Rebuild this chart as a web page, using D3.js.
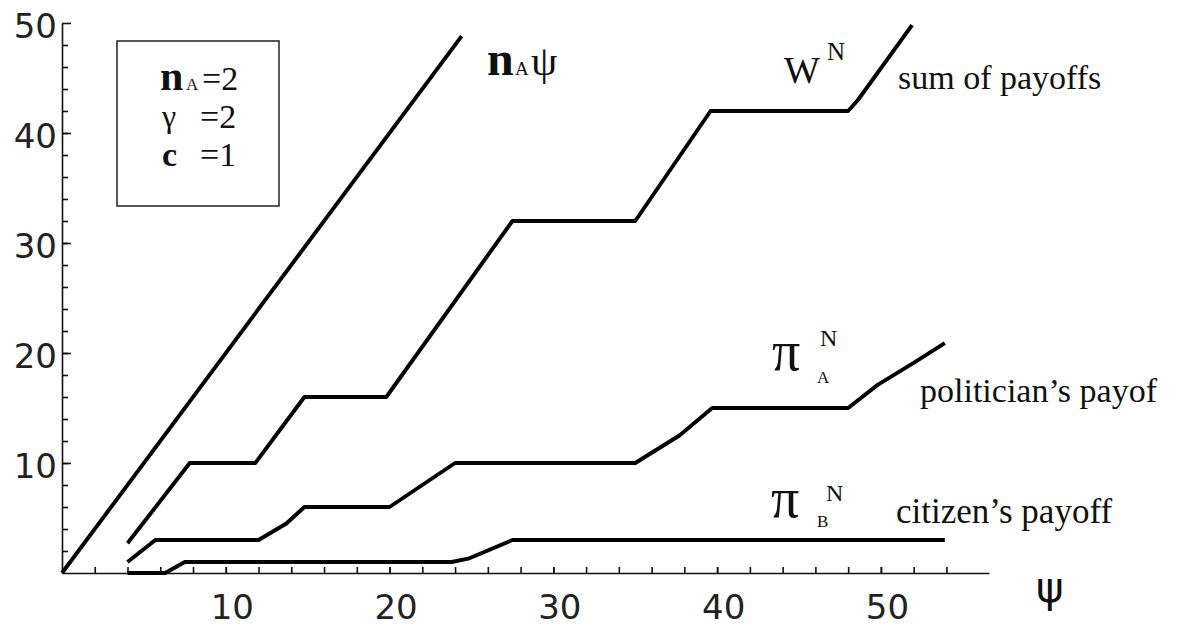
<!DOCTYPE html>
<head>
  <meta charset="utf-8">
  <script src="https://d3js.org/d3.v7.min.js"></script>
  <style>
    body { margin: 0; background: #fff; }
    .tick text { font-family: "DejaVu Sans", sans-serif; font-size: 34px; fill: #222; }
    .serif { font-family: "Liberation Serif", "Times New Roman", serif; fill: #111; }
  </style>
</head>
<body>
  <svg width="1184" height="628"></svg>
  <script>
    // curves: psi on x, payoff on y
    const psiLine = [0, 24.4];
    const valLine = [0, 48.8];

    const psiW = [4.0, 7.8, 11.8, 14.8, 19.8, 27.5, 35.0, 39.6, 48.0, 48.6, 51.9];
    const valW = [2.7, 10, 10, 16, 16, 32, 32, 42, 42, 43, 49.8];

    const psiA = [4.0, 5.7, 12.0, 13.7, 14.8, 20.0, 24.0, 35.0, 37.7, 39.7, 48.0, 49.8, 52.0, 53.9];
    const valA = [1.0, 3.0, 3.0, 4.5, 6.0, 6.0, 10.0, 10.0, 12.5, 15.0, 15.0, 17.1, 19.1, 20.9];

    const psiB = [4.0, 6.3, 7.5, 23.8, 24.8, 27.5, 53.9];
    const valB = [0, 0, 1, 1, 1.3, 3, 3];

    const xMinor = d3.range(2, 55, 2);
    const xMajor = [10, 20, 30, 40, 50];
    const yMinor = d3.range(2, 50, 2);
    const yMajor = [10, 20, 30, 40, 50];

    const svg = d3.select("svg");
    const x = d3.scaleLinear().domain([0, 56.6]).range([62, 989]);
    const y = d3.scaleLinear().domain([0, 50]).range([573, 23]);

    // x axis, ticks point up into the plot
    const gx = svg.append("g").attr("transform", `translate(0,${y(0)})`);
    gx.call(d3.axisBottom(x).tickValues(xMinor).tickSize(-6).tickSizeOuter(0).tickFormat(""));
    gx.append("g").call(d3.axisBottom(x).tickValues(xMajor).tickSize(-6).tickSizeOuter(0).tickPadding(22))
      .call(g => g.select(".domain").remove());
    gx.selectAll("text").attr("dx", 6);

    // y axis, ticks point right
    const gy = svg.append("g").attr("transform", `translate(${x(0)},0)`);
    gy.call(d3.axisLeft(y).tickValues(yMinor).tickSize(-6).tickSizeOuter(0).tickFormat(""));
    gy.append("g").call(d3.axisLeft(y).tickValues(yMajor).tickSize(-9).tickSizeOuter(0).tickPadding(5))
      .call(g => g.select(".domain").remove());
    gy.selectAll("text").attr("dy", "0.42em");

    svg.selectAll(".domain, .tick line").attr("stroke", "#111").attr("stroke-width", 1.6);

    const line = d3.line().x(d => x(d[0])).y(d => y(d[1]));
    const series = [
      d3.zip(psiLine, valLine),
      d3.zip(psiW, valW),
      d3.zip(psiA, valA),
      d3.zip(psiB, valB)
    ];
    svg.selectAll("path.curve").data(series).join("path")
      .attr("class", "curve")
      .attr("d", line)
      .attr("fill", "none")
      .attr("stroke", "#000")
      .attr("stroke-width", 3.9)
      .attr("stroke-linejoin", "round");

    // parameter box
    svg.append("rect").attr("x", 117).attr("y", 41).attr("width", 162).attr("height", 165)
      .attr("fill", "none").attr("stroke", "#222").attr("stroke-width", 1.5);

    function txt(s, tx, ty, size, bold) {
      return svg.append("text").attr("class", "serif").attr("x", tx).attr("y", ty)
        .attr("font-size", size).attr("font-weight", bold ? "bold" : null).text(s);
    }
    txt("n", 160, 90, 42, true);
    txt("A", 186, 90, 17);
    txt("=2", 202, 90, 34);
    txt("γ", 162, 127, 32);
    txt("=2", 200, 128, 34);
    txt("c", 162, 166, 34, true);
    txt("=1", 200, 166, 34);

    // curve labels
    txt("n", 487, 75, 48, true);
    txt("A", 515, 75, 19);
    txt("ψ", 531, 75, 42);

    txt("W", 784, 83, 38);
    txt("N", 827, 60, 25);
    txt("sum of payoffs", 898, 89, 34);

    txt("π", 772, 370, 56);
    txt("N", 820, 346, 24);
    txt("A", 817, 383, 17);
    txt("politician’s payof", 920, 402, 34);

    txt("π", 771, 517, 56);
    txt("N", 826, 501, 24);
    txt("B", 817, 527, 17);
    txt("citizen’s payoff", 896, 523, 35);

    svg.append("text").attr("x", 1036).attr("y", 602)
      .attr("font-family", "DejaVu Sans, sans-serif").attr("font-size", 42).attr("fill", "#111")
      .text("ψ");
  </script>
</body>
